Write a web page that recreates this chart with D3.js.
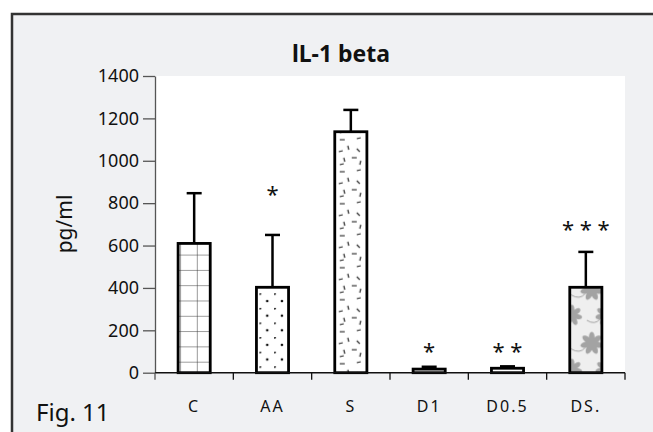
<!DOCTYPE html>
<html>
<head>
<meta charset="utf-8">
<script src="https://cdn.jsdelivr.net/npm/d3@7"></script>
<style>
  body { margin: 0; background: #fff; }
  text { font-family: "Noto Sans", sans-serif; }
</style>
</head>
<body>
<div id="chart"></div>
<script>
var categories = ["C", "AA", "S", "D1", "D0.5", "DS."];
var means = [610, 403, 1137, 17, 21, 403];
var errors = [237, 247, 103, 11, 9, 167];   // upper SD only
var stars = ["", "*", "", "*", "* *", "* * *"];
var starLevels = [0, 862, 0, 123, 123, 697]; // where the significance marks sit (pg/ml)
var yTicks = [0, 200, 400, 600, 800, 1000, 1200, 1400];
var fills = ["grid", "dots", "dash", "none", "none", "flower"];

var width = 653, height = 432;
var plot = { left: 155, right: 625, top: 76, bottom: 372.7 };

var svg = d3.select("#chart").append("svg")
    .attr("width", width)
    .attr("height", height);

// frame
svg.append("rect")
    .attr("x", 12).attr("y", 14)
    .attr("width", 700).attr("height", 500)
    .attr("fill", "#f0f1f3")
    .attr("stroke", "#333")
    .attr("stroke-width", 2.5);

svg.append("rect")
    .attr("x", plot.left).attr("y", plot.top)
    .attr("width", plot.right - plot.left)
    .attr("height", plot.bottom - plot.top)
    .attr("fill", "#fff");

var x = d3.scaleBand()
    .domain(categories)
    .range([plot.left, plot.right])
    .padding(0);

var y = d3.scaleLinear()
    .domain([0, 1400])
    .range([plot.bottom, plot.top]);

var barW = x.bandwidth() * 0.41;
function barX(d) { return x(d) + (x.bandwidth() - barW) / 2; }

// patterns
var defs = svg.append("defs");

var grid = defs.append("pattern")
    .attr("id", "grid")
    .attr("patternUnits", "userSpaceOnUse")
    .attr("x", barX("C") + 2).attr("y", y(0) - 11)
    .attr("width", 16.7).attr("height", 15.3);
grid.append("path")
    .attr("d", "M0,0V15.3M0,0H16.7")
    .attr("stroke", "#333").attr("stroke-width", 1).attr("fill", "none");

var dots = defs.append("pattern")
    .attr("id", "dots")
    .attr("patternUnits", "userSpaceOnUse")
    .attr("x", barX("AA") + 3).attr("y", y(403) + 6)
    .attr("width", 14.7).attr("height", 14.6);
dots.append("circle").attr("cx", 0.5).attr("cy", 0.5).attr("r", 1.3).attr("fill", "#111");
dots.append("circle").attr("cx", 7.8).attr("cy", 7.8).attr("r", 1.3).attr("fill", "#111");

var dash = defs.append("pattern")
    .attr("id", "dash")
    .attr("patternUnits", "userSpaceOnUse")
    .attr("x", barX("S") + 2).attr("y", y(1137) + 4)
    .attr("width", 28).attr("height", 32);
[[3,4,8,4],[20,3,24,2],[11,10,12,14],[2,16,6,15],[20,13,23,16],
 [7,22,8,26],[15,22,20,22],[24,25,23,29],[3,29,7,28]]
    .forEach(function (s) {
        dash.append("line")
            .attr("x1", s[0]).attr("y1", s[1]).attr("x2", s[2]).attr("y2", s[3])
            .attr("stroke", "#222").attr("stroke-width", 1.1);
    });

var flower = defs.append("pattern")
    .attr("id", "flower")
    .attr("patternUnits", "userSpaceOnUse")
    .attr("x", barX("DS.")).attr("y", y(403) - 10)
    .attr("width", 34).attr("height", 54);
flower.append("rect").attr("width", 34).attr("height", 54).attr("fill", "#efefef");
function addFlower(g, cx, cy, r) {
    var f = g.append("g").attr("transform", "translate(" + cx + "," + cy + ")");
    d3.range(7).forEach(function (i) {
        f.append("ellipse")
            .attr("cx", 0).attr("cy", -r * 0.55)
            .attr("rx", r * 0.26).attr("ry", r * 0.5)
            .attr("transform", "rotate(" + (i * 360 / 7) + ")")
            .attr("fill", "#a3a3a3");
    });
    f.append("circle").attr("r", r * 0.3).attr("fill", "#a3a3a3");
    f.append("path")
        .attr("d", "M" + (-r * 0.6) + "," + (r * 0.4) + " q" + (-r * 0.5) + "," + (r * 0.6) + " " + (-r * 1.3) + "," + (r * 0.1))
        .attr("stroke", "#a3a3a3").attr("stroke-width", 1).attr("fill", "none");
}
addFlower(flower, 22, 12, 11);
addFlower(flower, 22, 66, 11);
addFlower(flower, 2, 38, 10);
addFlower(flower, 36, 38, 10);
addFlower(flower, 2, -16, 10);

// y axis
svg.append("g")
    .attr("transform", "translate(" + plot.left + ",0)")
    .call(d3.axisLeft(y).tickValues(yTicks).tickFormat(d3.format("d"))
        .tickSize(12).tickSizeOuter(0).tickPadding(4))
    .call(function (g) {
        g.select(".domain").attr("stroke", "#555").attr("stroke-width", 1.3);
        g.selectAll(".tick line").attr("stroke", "#555").attr("stroke-width", 1.3);
        g.selectAll(".tick text")
            .attr("fill", "#111")
            .style("font-family", "'Noto Sans', sans-serif")
            .style("font-size", "18px");
    });

// error bars (upper only)
var eb = svg.append("g");
categories.forEach(function (c, i) {
    var cx = x(c) + x.bandwidth() / 2;
    eb.append("line")
        .attr("x1", cx).attr("x2", cx)
        .attr("y1", y(means[i])).attr("y2", y(means[i] + errors[i]))
        .attr("stroke", "#000").attr("stroke-width", 2.5);
    eb.append("line")
        .attr("x1", cx - 7.5).attr("x2", cx + 7.5)
        .attr("y1", y(means[i] + errors[i])).attr("y2", y(means[i] + errors[i]))
        .attr("stroke", "#000").attr("stroke-width", 2.5);
});

// bars
svg.append("g").selectAll("rect")
    .data(categories)
    .enter()
    .append("rect")
    .attr("x", function (d) { return barX(d); })
    .attr("y", function (d, i) { return y(means[i]); })
    .attr("width", barW)
    .attr("height", function (d, i) { return y(0) - y(means[i]); })
    .attr("fill", function (d, i) { return fills[i] === "none" ? "#fff" : "url(#" + fills[i] + ")"; })
    .attr("stroke", "#000")
    .attr("stroke-width", 2.8);

// x axis with ticks at band edges
var xAxis = svg.append("g").attr("transform", "translate(0," + plot.bottom + ")");
xAxis.append("line")
    .attr("x1", plot.left).attr("x2", plot.right)
    .attr("stroke", "#111").attr("stroke-width", 1.5);
xAxis.selectAll(".edge")
    .data(categories.map(function (c) { return x(c); }).concat([plot.right]))
    .enter()
    .append("line")
    .attr("class", "edge")
    .attr("x1", function (d) { return d; }).attr("x2", function (d) { return d; })
    .attr("y1", 0).attr("y2", 7)
    .attr("stroke", function (d, i) { return i === 0 ? "#555" : "#111"; })
    .attr("stroke-width", 1.3);

svg.append("g").selectAll("text")
    .data(categories)
    .enter()
    .append("text")
    .attr("x", function (d) { return x(d) + x.bandwidth() / 2; })
    .attr("y", 411.5)
    .attr("text-anchor", "middle")
    .style("font-size", "16px")
    .style("letter-spacing", "2px")
    .attr("fill", "#111")
    .text(function (d) { return d; });

// significance marks
svg.append("g").selectAll("text")
    .data(categories)
    .enter()
    .append("text")
    .attr("x", function (d) { return x(d) + x.bandwidth() / 2; })
    .attr("y", function (d, i) { return y(starLevels[i]) + 12; })
    .attr("text-anchor", "middle")
    .style("font-size", "22px")
    .attr("fill", "#111")
    .text(function (d, i) { return stars[i]; });

// title
svg.append("text")
    .attr("x", 341)
    .attr("y", 61.5)
    .attr("text-anchor", "middle")
    .style("font-size", "23px")
    .style("font-weight", "700")
    .attr("fill", "#111")
    .text("lL-1 beta");

// y label
svg.append("text")
    .attr("transform", "translate(72,224) rotate(-90)")
    .attr("text-anchor", "middle")
    .style("font-size", "21px")
    .attr("fill", "#111")
    .text("pg/ml");

// figure label
svg.append("text")
    .attr("x", 36)
    .attr("y", 420.5)
    .style("font-size", "24px")
    .attr("fill", "#111")
    .text("Fig. 11");
</script>
</body>
</html>
